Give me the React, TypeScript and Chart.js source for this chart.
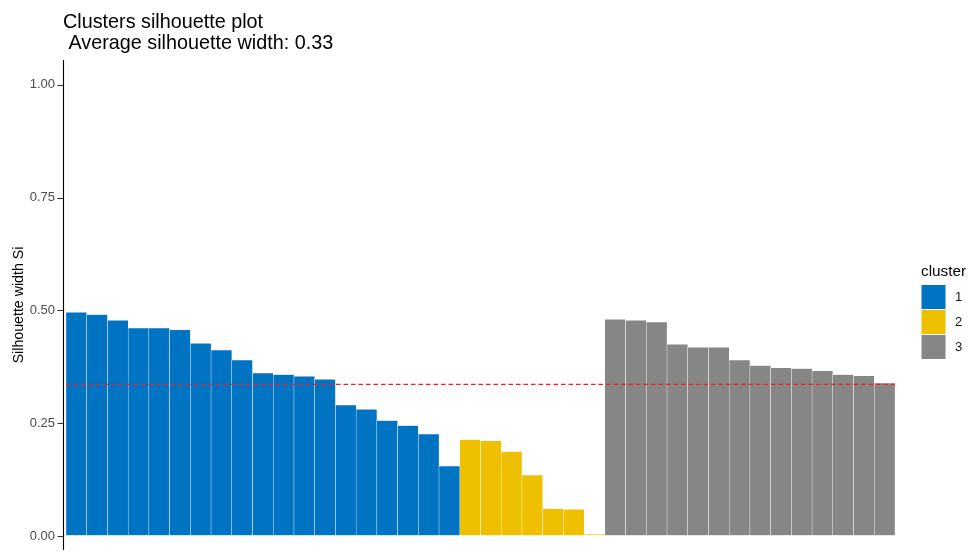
import React, { useEffect, useRef } from "react";
import { Chart, registerables } from "chart.js";
Chart.register(...registerables);

// Silhouette widths, sorted within each cluster
const cluster1Values = [0.496, 0.491, 0.478, 0.461, 0.461, 0.457, 0.427, 0.412, 0.39, 0.361, 0.358, 0.354, 0.347, 0.29, 0.281, 0.256, 0.245, 0.226, 0.155];
const cluster2Values = [0.214, 0.211, 0.187, 0.135, 0.061, 0.059, 0.004];
const cluster3Values = [0.48, 0.478, 0.474, 0.425, 0.418, 0.418, 0.39, 0.378, 0.373, 0.371, 0.366, 0.358, 0.355, 0.339];
const clusterNames = ["1", "2", "3"];
const clusterColors = ["#0073C2", "#EFC000", "#868686"];
const yTickValues = [0, 0.25, 0.5, 0.75, 1];
const titleLines = ["Clusters silhouette plot", " Average silhouette width: 0.33"];
const yAxisTitle = "Silhouette width Si";
const legendTitle = "cluster";

const FONT = "'Liberation Sans', Arial, sans-serif";

export default function App() {
  const ref = useRef<HTMLCanvasElement | null>(null);

  useEffect(() => {
    if (!ref.current) return;
    const groups = [cluster1Values, cluster2Values, cluster3Values];
    const all = groups.flat();
    const n = all.length;
    const labels = all.map((_, i) => String(i + 1));
    const avg = all.reduce((a, b) => a + b, 0) / n;

    let offset = 0;
    const datasets = groups.map((vals, k) => {
      const data: (number | null)[] = new Array(n).fill(null);
      vals.forEach((v, i) => (data[offset + i] = v));
      offset += vals.length;
      return {
        label: clusterNames[k],
        data,
        backgroundColor: clusterColors[k],
        borderColor: "rgba(255,255,255,0.85)",
        borderWidth: 0.5,
        borderSkipped: false as any,
        barPercentage: 1,
        categoryPercentage: 1,
      };
    });

    const overlay = {
      id: "overlay",
      afterDatasetsDraw(chart: any) {
        const { ctx, chartArea } = chart;
        const yScale = chart.scales.y;
        const y = yScale.getPixelForValue(avg);
        ctx.save();
        ctx.strokeStyle = "#FF1A1A";
        ctx.lineWidth = 1.3;
        ctx.setLineDash([4.5, 3]);
        ctx.beginPath();
        ctx.moveTo(chartArea.left, y);
        ctx.lineTo(chartArea.right, y);
        ctx.stroke();
        ctx.setLineDash([]);
        // y axis line and tick marks
        ctx.strokeStyle = "#000000";
        ctx.lineWidth = 1.1;
        ctx.beginPath();
        ctx.moveTo(63.5, chartArea.top);
        ctx.lineTo(63.5, chartArea.bottom);
        ctx.stroke();
        ctx.strokeStyle = "#333333";
        yTickValues.forEach((v) => {
          const ty = Math.round(yScale.getPixelForValue(v)) + 0.5;
          ctx.beginPath();
          ctx.moveTo(57.5, ty);
          ctx.lineTo(63.5, ty);
          ctx.stroke();
        });
        ctx.restore();
      },
      afterDraw(chart: any) {
        const { ctx, chartArea } = chart;
        ctx.save();
        // titles
        ctx.fillStyle = "#000000";
        ctx.font = `19.8px ${FONT}`;
        ctx.textAlign = "left";
        ctx.textBaseline = "alphabetic";
        ctx.fillText(titleLines[0], 63, 28.3);
        ctx.fillText(titleLines[1], 63, 49.3);
        // y axis title
        ctx.save();
        ctx.translate(23, (chartArea.top + chartArea.bottom) / 2);
        ctx.rotate(-Math.PI / 2);
        ctx.font = `14.2px ${FONT}`;
        ctx.textAlign = "center";
        ctx.textBaseline = "alphabetic";
        ctx.fillText(yAxisTitle, 0, 0);
        ctx.restore();
        // legend
        ctx.font = `15.3px ${FONT}`;
        ctx.textAlign = "left";
        ctx.textBaseline = "alphabetic";
        ctx.fillStyle = "#000000";
        ctx.fillText(legendTitle, 921, 275.5);
        const top = 285;
        const step = 25;
        clusterColors.forEach((c, i) => {
          const yy = top + i * step;
          ctx.fillStyle = c;
          ctx.fillRect(921.5, yy, 24, 24);
          ctx.fillStyle = "#1a1a1a";
          ctx.font = `13px ${FONT}`;
          ctx.textBaseline = "middle";
          ctx.fillText(clusterNames[i], 955, yy + 12.5);
          ctx.textBaseline = "alphabetic";
        });
        ctx.restore();
      },
    };

    const chart = new Chart(ref.current, {
      type: "bar",
      data: { labels, datasets },
      options: {
        animation: false,
        responsive: false,
        maintainAspectRatio: false,
        layout: { padding: { left: 0, right: 75, top: 60, bottom: 3 } },
        plugins: {
          legend: { display: false },
          tooltip: { enabled: false },
          title: { display: false },
        },
        scales: {
          x: {
            type: "category",
            stacked: true,
            display: false,
            offset: true,
            grid: { display: false },
          },
          y: {
            type: "linear",
            stacked: true,
            min: -0.031,
            max: 1.055,
            position: "left",
            border: { display: false },
            grid: {
              display: true,
              drawOnChartArea: false,
              drawTicks: true,
              tickLength: 4,
              color: "rgba(0,0,0,0)",
            },
            ticks: {
              color: "#4d4d4d",
              font: { family: FONT, size: 13 },
              padding: 7,
              callback: (v: any) => Number(v).toFixed(2),
            },
            afterBuildTicks: (scale: any) => {
              scale.ticks = yTickValues.map((v) => ({ value: v }));
            },
            afterFit: (scale: any) => {
              scale.width = 66;
              scale.paddingTop = 0;
              scale.paddingBottom = 0;
            },
          },
        },
      },
      plugins: [overlay],
    });

    return () => chart.destroy();
  }, []);

  return (
    <div style={{ position: "fixed", left: 0, top: 0, width: 970, height: 553, background: "#ffffff" }}>
      <canvas ref={ref} width={970} height={553} style={{ display: "block", width: 970, height: 553 }} />
    </div>
  );
}
